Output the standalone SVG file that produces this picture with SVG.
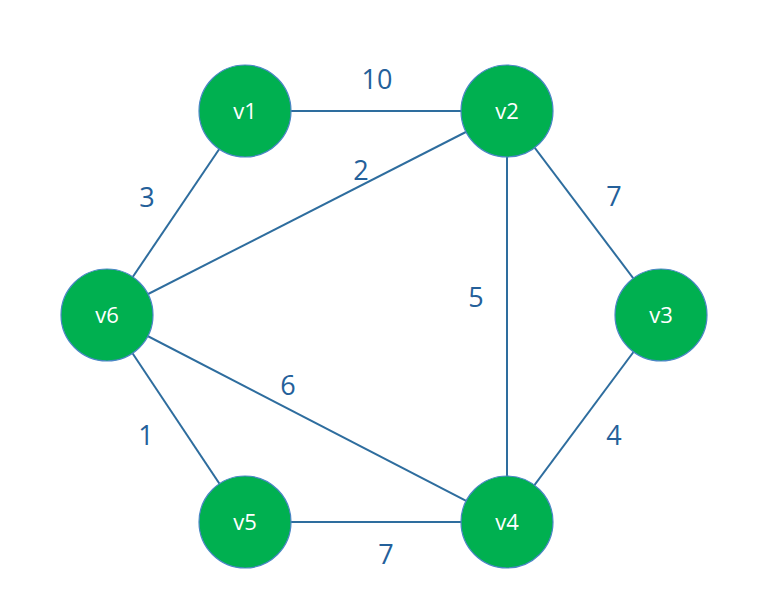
<svg xmlns="http://www.w3.org/2000/svg" width="768" height="616" viewBox="0 0 768 616">
  <style>
    .edge { stroke: #2E6D9E; stroke-width: 2; fill: none; }
    .node circle { fill: #00B050; stroke: #4A86C5; stroke-width: 1.2; }
    .node text { fill: #FFFFFF; font-family: "Open Sans", "Noto Sans", "DejaVu Sans", sans-serif; font-size: 22px; text-anchor: middle; }
    .weight { fill: #24609A; font-family: "Open Sans", "Noto Sans", "DejaVu Sans", sans-serif; font-size: 27px; text-anchor: middle; }
  </style>
  <rect width="768" height="616" fill="#FFFFFF"/>
  <g id="connectors">
    <line class="edge" x1="245" y1="111" x2="507" y2="111"/>
    <line class="edge" x1="245" y1="111" x2="107" y2="315"/>
    <line class="edge" x1="107" y1="315" x2="507" y2="111"/>
    <line class="edge" x1="507" y1="111" x2="507" y2="522"/>
    <line class="edge" x1="507" y1="111" x2="661" y2="315"/>
    <line class="edge" x1="661" y1="315" x2="507" y2="522"/>
    <line class="edge" x1="107" y1="315" x2="507" y2="522"/>
    <line class="edge" x1="107" y1="315" x2="245" y2="522"/>
    <line class="edge" x1="245" y1="522" x2="507" y2="522"/>
    <text class="weight" x="377" y="89">10</text>
    <text class="weight" x="361" y="180">2</text>
    <text class="weight" x="147" y="207">3</text>
    <text class="weight" x="614" y="206">7</text>
    <text class="weight" x="476" y="307">5</text>
    <text class="weight" x="288" y="395">6</text>
    <text class="weight" x="146" y="445">1</text>
    <text class="weight" x="614" y="445">4</text>
    <text class="weight" x="386" y="564">7</text>
  </g>
  <g id="v1" class="node"><circle cx="245" cy="111" r="46"/><text x="245" y="119">v1</text></g>
  <g id="v2" class="node"><circle cx="507" cy="111" r="46"/><text x="507" y="119">v2</text></g>
  <g id="v3" class="node"><circle cx="661" cy="315" r="46"/><text x="661" y="323">v3</text></g>
  <g id="v4" class="node"><circle cx="507" cy="522" r="46"/><text x="507" y="530">v4</text></g>
  <g id="v5" class="node"><circle cx="245" cy="522" r="46"/><text x="245" y="530">v5</text></g>
  <g id="v6" class="node"><circle cx="107" cy="315" r="46"/><text x="107" y="323">v6</text></g>
</svg>
